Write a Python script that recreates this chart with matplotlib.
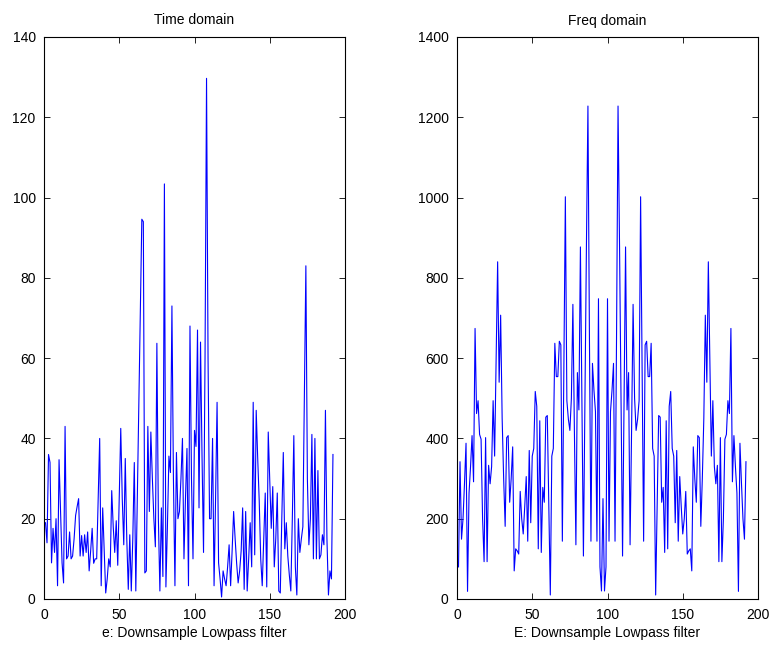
import matplotlib
matplotlib.use("Agg")
import matplotlib.pyplot as plt

plt.rcParams['font.family'] = ['Liberation Sans', 'DejaVu Sans']

# Time-domain magnitude |e[n]|, n = 1..192
time_vals = [
    19, 14, 36, 34, 9, 17.6, 11.6, 20, 3.3, 34.7,
    22, 9, 4, 43, 10, 10.7, 16.7, 10, 10.7, 15,
    20.8, 23, 25, 10.7, 15.8, 10.7, 16, 11.6, 16.7, 7,
    12, 17.6, 8.9, 10, 10, 25, 40, 3.3, 22.7, 12,
    1.5, 5, 10, 8, 27, 18, 11.6, 19.5, 8.4, 25,
    42.5, 25, 13.5, 35, 15, 2.4, 16, 2, 15, 34,
    2, 25, 48, 72, 94.6, 94, 6.5, 7, 43, 21.8,
    41.6, 30, 20, 13, 63.7, 20, 2, 22.7, 5.6, 103.4,
    3, 18, 35.6, 31.5, 73, 30, 3.3, 36.5, 20, 21.8,
    30, 40, 10, 25, 37.5, 3.3, 68, 30, 10, 42,
    38, 67, 22.7, 64, 35.6, 11.6, 60, 129.7, 60, 20,
    20, 40, 3.3, 25, 49, 9, 5, 0.5, 7, 5,
    3.3, 8, 13.5, 3.3, 12, 21.8, 15, 8.9, 4, 7,
    12, 22.7, 2.4, 21.8, 2, 10, 19, 8, 49, 11,
    47, 35, 24.5, 10, 3.3, 15, 26.4, 3, 41.6, 30,
    17.6, 28, 8, 15, 26.4, 2, 1.5, 20, 36.5, 12.5,
    19, 10.7, 6, 2, 20, 40.7, 8, 1, 20, 11.6,
    15, 18, 50, 83, 30, 13.5, 20, 41, 10, 40,
    10, 32, 10, 11, 16, 13.5, 47, 15, 1, 7,
    5, 36,
]

# Frequency-domain magnitude |E[k]|, k = 1..192
freq_vals = [
    80, 342, 149, 200, 290, 388, 19, 264, 330, 407,
    292, 674, 462, 494, 410, 398, 200, 93, 402, 93,
    333, 287, 330, 494, 356, 600, 840, 540, 707, 450,
    300, 181, 402, 407, 241, 300, 379, 70, 125, 120,
    112, 268, 200, 162, 230, 305, 144, 370, 190, 356,
    375, 517, 480, 125, 444, 116, 278, 241, 453, 457,
    230, 10, 356, 375, 637, 554, 554, 642, 633, 144,
    570, 1002, 494, 448, 420, 500, 734, 420, 135, 564,
    471, 877, 500, 107, 500, 880, 1228, 650, 144, 587,
    520, 467, 144, 748, 80, 20, 250, 20, 80, 748,
    144, 467, 520, 587, 144, 650, 1228, 880, 500, 107,
    500, 877, 471, 564, 135, 420, 734, 500, 420, 448,
    494, 1002, 570, 144, 633, 642, 554, 554, 637, 375,
    356, 10, 230, 457, 453, 241, 278, 116, 444, 125,
    480, 517, 375, 356, 190, 370, 144, 305, 230, 162,
    200, 268, 112, 120, 125, 70, 379, 300, 241, 407,
    402, 181, 300, 450, 707, 540, 840, 600, 356, 494,
    330, 287, 333, 93, 402, 93, 200, 398, 410, 494,
    462, 674, 292, 407, 330, 264, 19, 388, 290, 200,
    149, 342,
]

titles = ["Time domain", "Freq domain"]
xlabels = ["e: Downsample Lowpass filter", "E: Downsample Lowpass filter"]
xticks = [0, 50, 100, 150, 200]
yticks_time = [0, 20, 40, 60, 80, 100, 120, 140]
yticks_freq = [0, 200, 400, 600, 800, 1000, 1200, 1400]

W, H = 774, 645
fig = plt.figure(figsize=(W / 100, H / 100), dpi=100)
fig.patch.set_facecolor('white')

positions = [
    [44 / W, (H - 599) / H, 301 / W, 562 / H],
    [457 / W, (H - 599) / H, 301 / W, 562 / H],
]
series = [time_vals, freq_vals]
yticks_list = [yticks_time, yticks_freq]

for pos, vals, title, xl, yt in zip(positions, series, titles, xlabels, yticks_list):
    ax = fig.add_axes(pos)
    x = list(range(1, len(vals) + 1))
    ax.plot(x, vals, color='#0000FF', linewidth=0.8)
    ax.set_xlim(0, 200)
    ax.set_ylim(yt[0], yt[-1])
    ax.set_xticks(xticks)
    ax.set_yticks(yt)
    ax.tick_params(direction='in', top=True, right=True, length=4,
                   width=0.6, labelsize=10, colors='black')
    ax.tick_params(axis='x', pad=6.5)
    ax.tick_params(axis='y', pad=6)
    for s in ax.spines.values():
        s.set_linewidth(0.8)
        s.set_color('black')
    ax.set_title(title, fontsize=10, pad=9)
    ax.set_xlabel(xl, fontsize=10, labelpad=3)

fig.savefig('out.png', dpi=100, facecolor='white')
